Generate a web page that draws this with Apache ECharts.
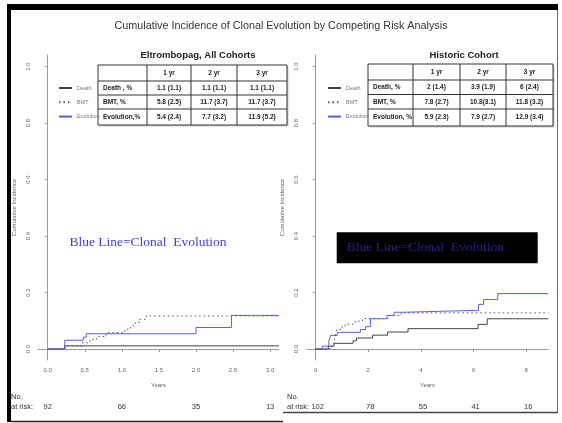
<!DOCTYPE html>
<html><head><meta charset="utf-8">
<script src="https://cdn.jsdelivr.net/npm/echarts@6/dist/echarts.min.js"></script>
<style>html,body{margin:0;padding:0;background:#fff}#c{width:562px;height:423px}</style>
</head><body><div id="c"></div>
<script>
// ---------- data ----------
const mainTitle = 'Cumulative Incidence of Clonal Evolution by Competing Risk Analysis';
const panelTitles = ['Eltrombopag, All Cohorts', 'Historic Cohort'];
const seriesNames = ['Death', 'BMT', 'Evolution'];
const yTicks = [0, 0.2, 0.4, 0.6, 0.8, 1.0];
const xTicksLeft = [0, 0.5, 1.0, 1.5, 2.0, 2.5, 3.0];
const xTicksRight = [0, 2, 4, 6, 8];

const leftDeath = [[0,0],[0.23,0.011],[3.12,0.011]];
const leftBMT = [[0,0],[0.23,0.011],[0.46,0.022],[0.57,0.033],[0.66,0.044],[0.79,0.058],[1.04,0.070],[1.12,0.082],[1.18,0.094],[1.24,0.105],[1.33,0.117],[3.12,0.117]];
const leftEvolution = [[0,0],[0.23,0.031],[0.48,0.042],[0.52,0.054],[2.0,0.076],[2.48,0.119],[3.12,0.119]];

const rightDeath = [[0,0],[0.48,0.01],[0.7,0.02],[1.42,0.029],[1.55,0.039],[2.16,0.049],[2.73,0.06],[3.51,0.072],[6.17,0.087],[6.52,0.107],[8.84,0.107]];
const rightBMT = [[0,0],[0.55,0.01],[0.68,0.02],[0.75,0.049],[0.8,0.069],[1.0,0.078],[1.12,0.088],[1.5,0.098],[1.78,0.108],[2.75,0.118],[3.25,0.128],[8.84,0.128]];
const rightEvolution = [[0,0],[0.25,0.01],[0.5,0.028],[0.57,0.048],[0.82,0.059],[1.7,0.069],[1.9,0.079],[2.08,0.107],[2.71,0.119],[2.98,0.130],[3.35,0.137],[6.19,0.158],[6.38,0.175],[6.92,0.196],[8.84,0.196]];

const tableHeader = ['', '1 yr', '2 yr', '3 yr'];
const leftRowLabels = ['Death , %', 'BMT, %', 'Evolution,%'];
const leftValues = [
  ['1.1 (1.1)', '1.1 (1.1)', '1.1 (1.1)'],
  ['5.8 (2.5)', '11.7 (3.7)', '11.7 (3.7)'],
  ['5.4 (2.4)', '7.7 (3.2)', '11.9 (5.2)']
];
const rightRowLabels = ['Death, %', 'BMT, %', 'Evolution, %'];
const rightValues = [
  ['2 (1.4)', '3.9 (1.9)', '6 (2.4)'],
  ['7.8 (2.7)', '10.8(3.1)', '11.8 (3.2)'],
  ['5.9 (2.3)', '7.9 (2.7)', '12.9 (3.4)']
];

const riskTimesLeft = [0, 1, 2, 3];
const riskLeft = [92, 66, 35, 13];
const riskTimesRight = [0, 2, 4, 6, 8];
const riskRight = [102, 78, 55, 41, 16];
const annotation = 'Blue Line=Clonal  Evolution';

// ---------- chart ----------
const FONT = '"Liberation Sans", Arial, sans-serif';
const SERIF = '"Liberation Serif", "Times New Roman", serif';
const colors = {Death: '#444444', BMT: '#555555', Evolution: '#5a5af2'};
const chart = echarts.init(document.getElementById('c'), null, {renderer: 'canvas'});

function xAxisCfg(grid, min, max, ticks, digits) {
  return {
    type: 'value', gridIndex: grid, min: min, max: max,
    name: 'Years', nameLocation: 'middle', nameGap: 22,
    nameTextStyle: {fontSize: 6, color: '#666', fontFamily: FONT},
    axisLine: {show: true, lineStyle: {color: '#999', width: 1}},
    axisTick: {show: true, length: 3, lineStyle: {color: '#999'}, customValues: ticks},
    axisLabel: {fontSize: 6, color: '#666', fontFamily: FONT, margin: 7, customValues: ticks,
      formatter: v => v.toFixed(digits)},
    splitLine: {show: false}
  };
}
function yAxisCfg(grid) {
  return {
    type: 'value', gridIndex: grid, min: -0.039, max: 1.041,
    name: 'Cumulative Incidence', nameLocation: 'middle', nameGap: 21,
    nameTextStyle: {fontSize: 6, color: '#666', fontFamily: FONT},
    axisLine: {show: true, lineStyle: {color: '#999', width: 1}},
    axisTick: {show: true, length: 3, lineStyle: {color: '#999'}, customValues: yTicks},
    axisLabel: {fontSize: 6, color: '#666', fontFamily: FONT, margin: 7, rotate: 90, customValues: yTicks,
      formatter: v => v.toFixed(1)},
    splitLine: {show: false}
  };
}
function lineSeries(name, data, idx) {
  return {
    name: name, type: 'line', xAxisIndex: idx, yAxisIndex: idx, data: data,
    step: 'end', symbol: 'none', silent: true, animation: false,
    lineStyle: {color: colors[name], width: 1, type: name === 'BMT' ? [1.5, 3] : 'solid'},
    itemStyle: {color: colors[name]}
  };
}
function legendCfg(left) {
  return {
    left: left, top: 80, orient: 'vertical', data: seriesNames,
    itemWidth: 13, itemHeight: 6, itemGap: 8.3, selectedMode: false,
    itemStyle: {opacity: 0, borderWidth: 0},
    textStyle: {fontSize: 5.5, color: '#777', fontFamily: FONT}
  };
}

chart.setOption({
  animation: false,
  title: [
    {text: mainTitle, left: 'center', top: 16, textStyle: {fontSize: 10.8, fontWeight: 'normal', color: '#333', fontFamily: FONT}},
    {text: panelTitles[0], left: 193, top: 45, textAlign: 'center', textStyle: {fontSize: 9.5, fontWeight: 'bold', color: '#222', fontFamily: FONT}},
    {text: panelTitles[1], left: 459, top: 45, textAlign: 'center', textStyle: {fontSize: 9.5, fontWeight: 'bold', color: '#222', fontFamily: FONT}}
  ],
  legend: [legendCfg(53), legendCfg(322)],
  grid: [
    {left: 38, top: 55, width: 241, height: 305},
    {left: 306.7, top: 55, width: 241.6, height: 305}
  ],
  xAxis: [xAxisCfg(0, -0.131, 3.12, xTicksLeft, 1), xAxisCfg(1, -0.34, 8.84, xTicksRight, 0)],
  yAxis: [yAxisCfg(0), yAxisCfg(1)],
  series: [
    lineSeries('Death', leftDeath, 0), lineSeries('BMT', leftBMT, 0), lineSeries('Evolution', leftEvolution, 0),
    lineSeries('Death', rightDeath, 1), lineSeries('BMT', rightBMT, 1), lineSeries('Evolution', rightEvolution, 1)
  ]
});

// ---------- graphics ----------
const g = [];
// frame
g.push({type: 'rect', shape: {x: 7, y: 4, width: 551, height: 6}, style: {fill: '#000'}, silent: true});
g.push({type: 'rect', shape: {x: 7, y: 4, width: 4, height: 418}, style: {fill: '#000'}, silent: true});
g.push({type: 'line', shape: {x1: 557.5, y1: 10, x2: 557.5, y2: 412}, style: {stroke: '#666', lineWidth: 1}, silent: true});
g.push({type: 'line', shape: {x1: 283, y1: 412.5, x2: 558, y2: 412.5}, style: {stroke: '#444', lineWidth: 1.5}, silent: true});
g.push({type: 'line', shape: {x1: 11, y1: 421.5, x2: 283, y2: 421.5}, style: {stroke: '#222', lineWidth: 1.5}, silent: true});

function table(cols, rowsY, labels, values) {
  const x0 = cols[0], x1 = cols[cols.length - 1], y0 = rowsY[0], y1 = rowsY[rowsY.length - 1];
  g.push({type: 'rect', shape: {x: x0 + 1.5, y: y0 + 1.5, width: x1 - x0, height: y1 - y0}, style: {fill: '#ccc'}, silent: true});
  g.push({type: 'rect', shape: {x: x0, y: y0, width: x1 - x0, height: y1 - y0}, style: {fill: '#fff', stroke: '#333', lineWidth: 1}, silent: true});
  rowsY.slice(1, -1).forEach(y => g.push({type: 'line', shape: {x1: x0, y1: y, x2: x1, y2: y}, style: {stroke: '#333', lineWidth: 1}, silent: true}));
  cols.slice(1, -1).forEach(x => g.push({type: 'line', shape: {x1: x, y1: y0, x2: x, y2: y1}, style: {stroke: '#333', lineWidth: 1}, silent: true}));
  const txt = (s, x, y, align) => g.push({type: 'text', x: x, y: y, silent: true,
    style: {text: s, fontSize: 6.5, fontWeight: 'bold', fill: '#222', fontFamily: FONT, align: align, verticalAlign: 'middle'}});
  tableHeader.forEach((h, i) => { if (h) txt(h, (cols[i] + cols[i + 1]) / 2, (rowsY[0] + rowsY[1]) / 2, 'center'); });
  labels.forEach((l, r) => {
    const yc = (rowsY[r + 1] + rowsY[r + 2]) / 2;
    txt(l, cols[0] + 5, yc, 'left');
    values[r].forEach((v, c) => txt(v, (cols[c + 1] + cols[c + 2]) / 2, yc, 'center'));
  });
}
table([98, 147, 191, 237, 287], [65, 81, 95, 109, 125], leftRowLabels, leftValues);
table([368, 413, 460, 506, 553], [64, 80, 94.5, 109, 126], rightRowLabels, rightValues);

// annotations
g.push({type: 'text', x: 148, y: 242, silent: true,
  style: {text: annotation, fontSize: 13.5, fill: '#3e3ed2', fontFamily: SERIF, align: 'center', verticalAlign: 'middle'}});
g.push({type: 'rect', shape: {x: 336.7, y: 232.3, width: 201, height: 31}, style: {fill: '#000'}, silent: true});
g.push({type: 'text', x: 346.7, y: 247.5, silent: true,
  style: {text: annotation, fontSize: 13.5, fill: '#23238c', fontFamily: SERIF, align: 'left', verticalAlign: 'middle'}});

// at-risk
const riskStyle = (s, x, y, align) => g.push({type: 'text', x: x, y: y, silent: true,
  style: {text: s, fontSize: 7.5, fill: '#333', fontFamily: FONT, align: align, verticalAlign: 'middle'}});
riskStyle('No.', 11, 397, 'left');
riskStyle('at risk:', 11, 407, 'left');
riskStyle('No.', 287, 397, 'left');
riskStyle('at risk:', 287, 407, 'left');
riskTimesLeft.forEach((t, i) => {
  const p = chart.convertToPixel({xAxisIndex: 0, yAxisIndex: 0}, [t, 0]);
  riskStyle(String(riskLeft[i]), p[0], 407, 'center');
});
riskTimesRight.forEach((t, i) => {
  const p = chart.convertToPixel({xAxisIndex: 1, yAxisIndex: 1}, [t, 0]);
  riskStyle(String(riskRight[i]), p[0] + 2, 407, 'center');
});

chart.setOption({graphic: {elements: g}});
</script></body></html>
